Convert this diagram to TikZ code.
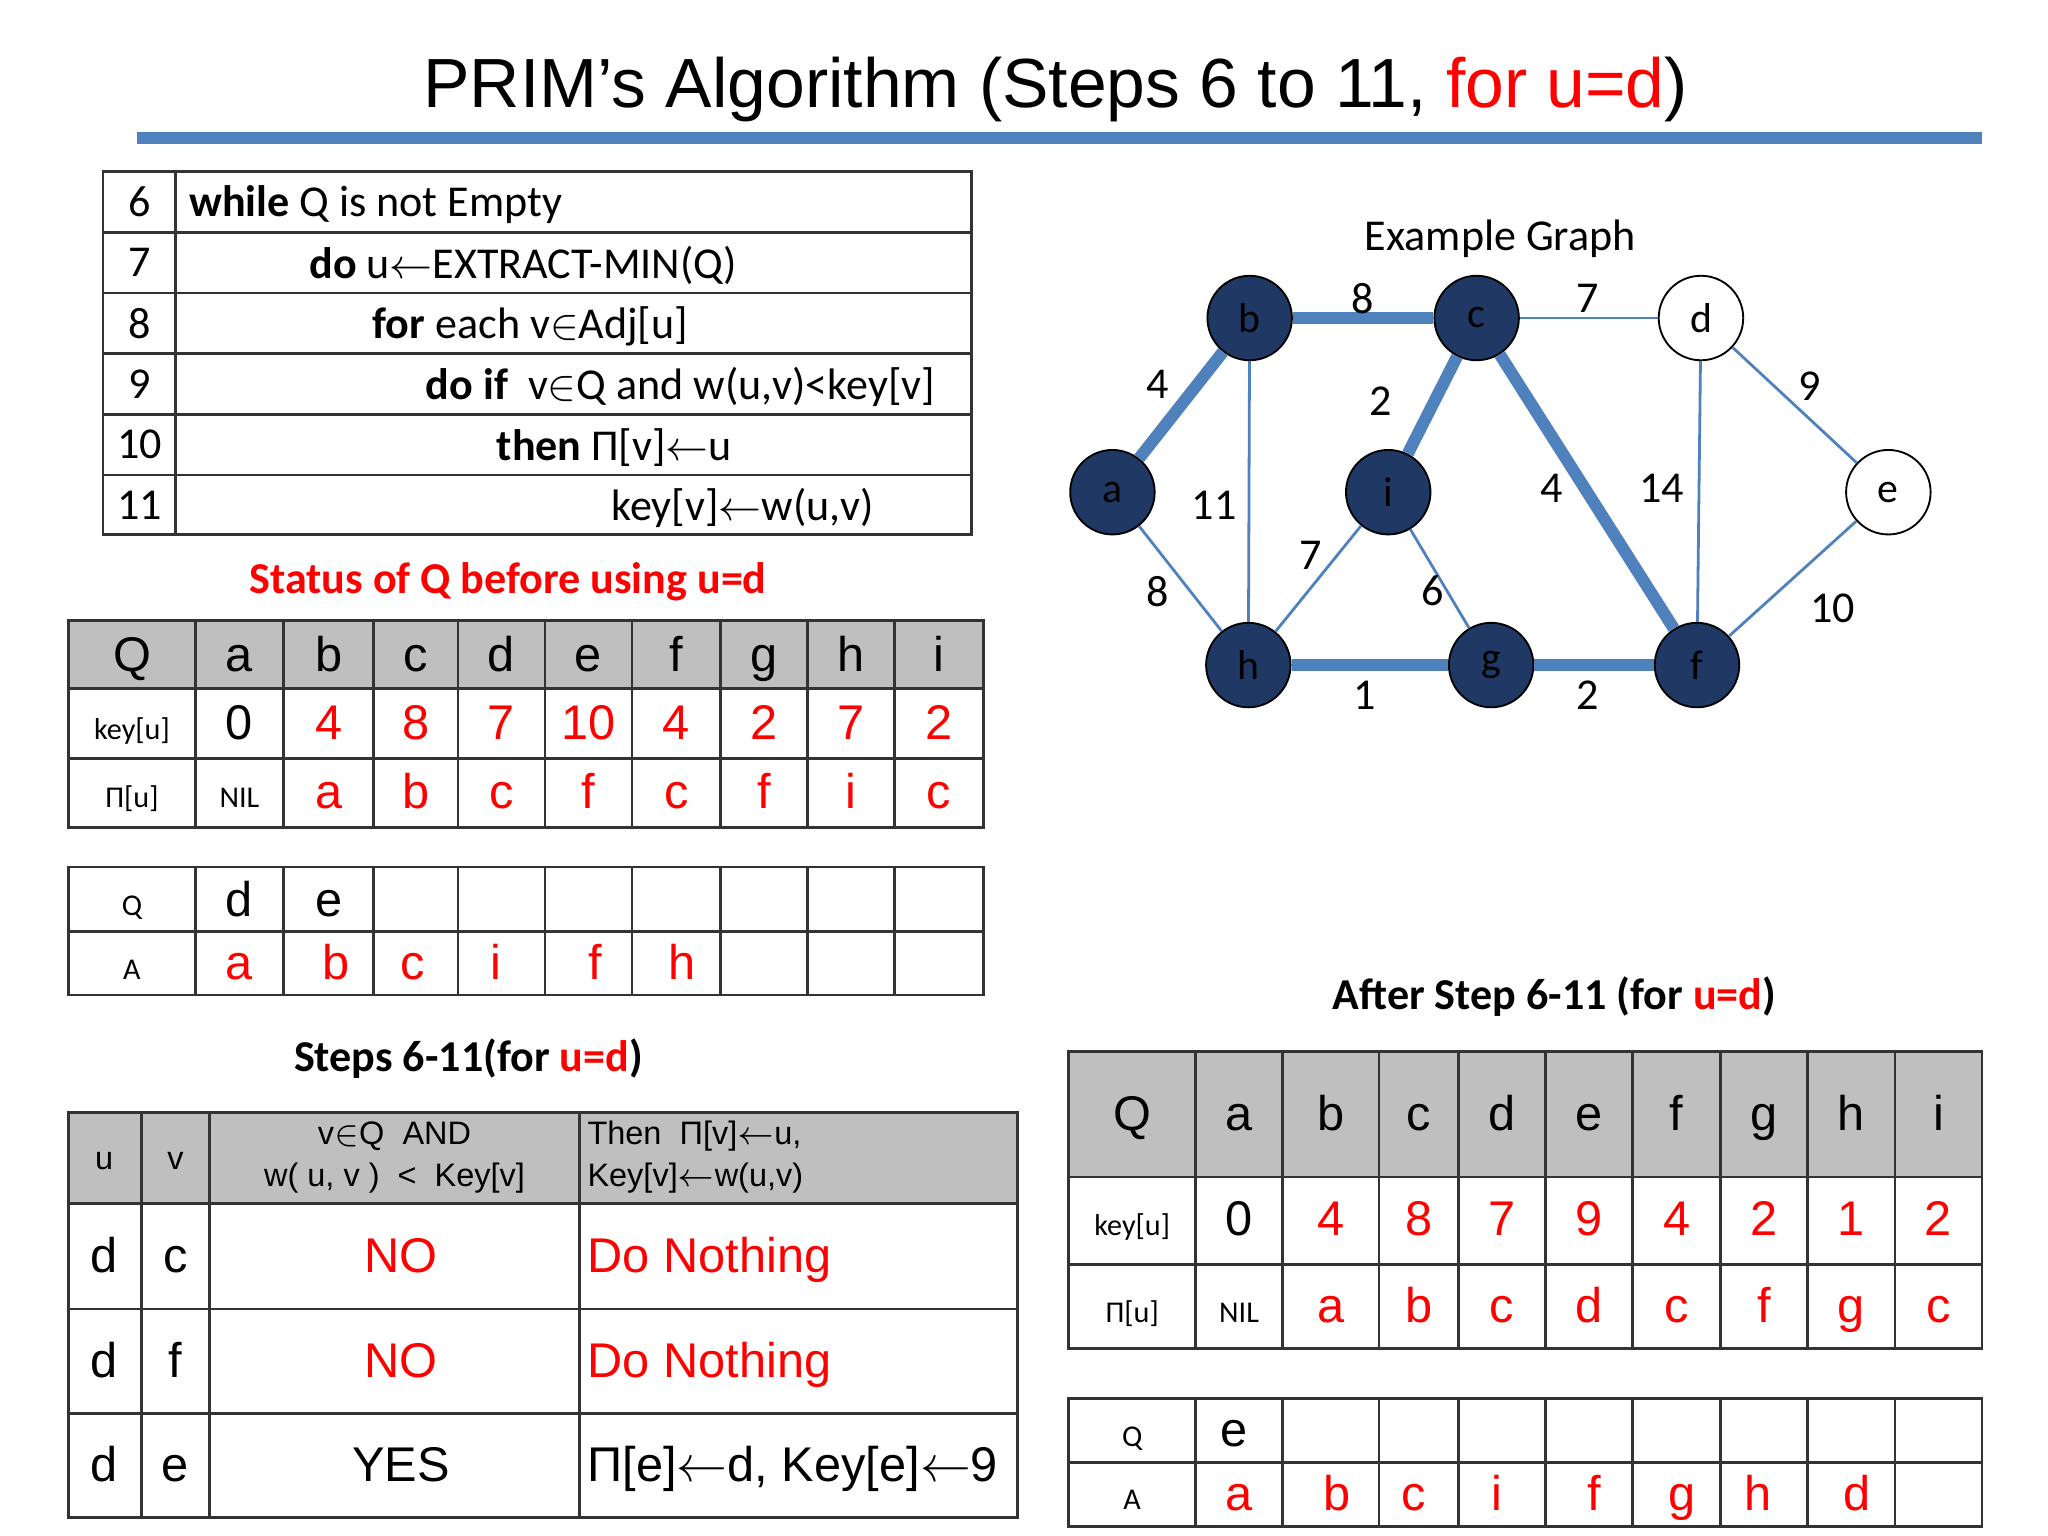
\documentclass[tikz,border=0pt]{standalone}
\usepackage{fontspec}
\setmainfont{Carlito}
\newfontfamily\arialf{Liberation Sans}
\begin{document}
\begin{tikzpicture}[x=0.01cm,y=-0.01cm]
\definecolor{rd}{RGB}{255,0,0}
\definecolor{hdr}{RGB}{191,191,191}
\definecolor{navy}{RGB}{31,56,100}
\definecolor{eb}{RGB}{79,129,189}
\tikzset{
  grid/.style={draw=black!80,line width=0.6pt},
  big/.style={font=\arialf\fontsize{10.5}{13}\selectfont,text height=1.55ex,text depth=0.3ex},
  sm/.style={font=\fontsize{6.5}{8}\selectfont,text height=1.6ex,text depth=0.4ex},
  code/.style={font=\fontsize{9.5}{11}\selectfont,anchor=west},
  vtx/.style={circle,draw=black,fill=navy,minimum size=0.64cm,inner sep=0pt,font=\fontsize{9}{10}\selectfont},
  wvtx/.style={circle,draw=black,fill=white,minimum size=0.64cm,inner sep=0pt,font=\fontsize{9}{10}\selectfont},
  thick edge/.style={draw=eb,line width=2.6pt},
  thin edge/.style={draw=eb,line width=0.6pt},
  wl/.style={font=\fontsize{9.5}{11}\selectfont},
  ttl/.style={font=\bfseries\fontsize{9.5}{11}\selectfont},
}
\useasboundingbox[fill=white] (0,0) rectangle (1552,1164);
% title
\node[font=\arialf\fontsize{15}{18}\selectfont] (title) at (800,68) {PRIM’s Algorithm (Steps 6 to 11, \textcolor{rd}{for u=d})};
\fill[eb] (104,100) rectangle (1502,109);
% code table
\draw[grid] (78,130) rectangle (736,405);
\foreach \y in {176,222,268,314,360} \draw[grid] (78,\y) -- (736,\y);
\draw[grid] (133,130) -- (133,405);
\foreach \n/\y in {6/153,7/199,8/245,9/291,10/337,11/383}
  \node[font=\fontsize{9.5}{11}\selectfont] (ln\n) at (106,\y) {\n};
\node[code] (c6) at (131,155) {\textbf{while} Q is not Empty};
\node[code] (c7) at (222,201) {\textbf{do} u$\leftarrow$EXTRACT-MIN(Q)};
\node[code] (c8) at (270,247) {\textbf{for} each v$\in$Adj[u]};
\node[code,anchor=east] (c9) at (721,293) {\textbf{do if}\ \ v$\in$Q and w(u,v)<key[v]};
\node[code] (c10) at (364,339) {\textbf{then} Π[v]$\leftarrow$u};
\node[code] (c11) at (451,385) {key[v]$\leftarrow$w(u,v)};
% status title
\node[font=\bfseries\fontsize{9.5}{11}\selectfont,text=rd] (st) at (385,441) {Status of Q before using u=d};
% table 1
\fill[hdr] (52,470) rectangle (745,522);
\draw[grid] (52,470) rectangle (745,627);
\foreach \y in {522,575} \draw[grid] (52,\y) -- (745,\y);
\foreach \x in {148,215,283,347,413,479,546,612,678} \draw[grid] (\x,470) -- (\x,627);
\foreach \t [count=\i] in {Q,a,b,c,d,e,f,g,h,i}{
  \pgfmathsetmacro\xc{{0,100,181.5,249,315,380,446,512.5,579,645,711.5}[\i]}
  \node[big] (ha\i) at (\xc,498) {\t};}
\foreach \t [count=\i] in {0,4,8,7,10,4,2,7,2}{
  \pgfmathsetmacro\xc{{0,181.5,249,315,380,446,512.5,579,645,711.5}[\i]}
  \ifnum\i=1 \node[big] (ka\i) at (\xc,550) {\t};\else \node[big,text=rd] (ka\i) at (\xc,550) {\t};\fi}
\foreach \t [count=\i] in {a,b,c,f,c,f,i,c}{
  \pgfmathsetmacro\xc{{0,249,315,380,446,512.5,579,645,711.5}[\i]}
  \node[big,text=rd] (pa\i) at (\xc,602) {\t};}
\node[sm] (kl1) at (100,550) {key[u]};
\node[sm] (pl1) at (100,602) {Π[u]};
\node[sm] (nil1) at (181.5,602) {NIL};
% table 2
\draw[grid] (52,657) rectangle (745,754);
\draw[grid] (52,706) -- (745,706);
\foreach \x in {148,215,283,347,413,479,546,612,678} \draw[grid] (\x,657) -- (\x,754);
\node[sm] (q2) at (100,684) {Q};
\node[sm] (a2) at (100,732) {A};
\node[big] (q2d) at (181.5,684) {d};
\node[big] (q2e) at (249,684) {e};
\foreach \t/\xc in {a/181.5,b/255,c/313,i/376,f/451,h/517}
  \node[big,text=rd] (A2\t) at (\xc,732) {\t};
% steps title
\node[ttl] (stt) at (355,802) {Steps 6-11(for \textcolor{rd}{u=d})};
% table 3
\fill[hdr] (52,843) rectangle (771,912);
\draw[grid] (52,843) rectangle (771,1150);
\foreach \y in {912,992,1071} \draw[grid] (52,\y) -- (771,\y);
\foreach \x in {107,159,439} \draw[grid] (\x,843) -- (\x,1150);
\node[font=\arialf\fontsize{7}{9}\selectfont] (hu) at (79,880) {u};
\node[font=\arialf\fontsize{7}{9}\selectfont] (hv) at (133,880) {v};
\node[font=\arialf\fontsize{7}{9}\selectfont,align=center] (hc) at (299,877) {v$\in$Q\ \ AND\\w( u, v )\ \ <\ \ Key[v]};
\node[font=\arialf\fontsize{7}{9}\selectfont,align=left,anchor=west,inner sep=1pt] (ht) at (441,877) {Then\ \ Π[v]$\leftarrow$u,\\Key[v]$\leftarrow$w(u,v)};
\foreach \u/\v/\c/\y [count=\r] in {d/c/NO/954,d/f/NO/1033,d/e/YES/1112}{
  \node[big] (ru\r) at (79,\y) {\u};
  \node[big] (rv\r) at (133,\y) {\v};
  \ifnum\r<3 \node[big,text=rd] (rc\r) at (304,\y) {\c};
  \node[big,text=rd,anchor=west,inner sep=1pt] (rt\r) at (441,\y) {Do Nothing};
  \else \node[big] (rc\r) at (304,\y) {\c};
  \node[big,anchor=west,inner sep=1pt] (rt\r) at (441,\y) {Π[e]$\leftarrow$d, Key[e]$\leftarrow$9};\fi}
% graph
\node[wl] (eg) at (1137,181) {Example Graph};
\node[vtx] (a) at (843,373) {a};
\node[vtx] (b) at (947,241) {b};
\node[vtx] (c) at (1119,241) {c};
\node[wvtx] (d) at (1289,241) {d};
\node[wvtx] (e) at (1431,373) {e};
\node[vtx] (i) at (1052,373) {i};
\node[vtx] (h) at (946,504) {h};
\node[vtx] (g) at (1130,504) {g};
\node[vtx] (f) at (1286,504) {f};
\draw[thick edge] (a) -- (b);
\draw[thick edge] (b) -- (c);
\draw[thick edge] (c) -- (i);
\draw[thick edge] (c) -- (f);
\draw[thick edge] (h) -- (g);
\draw[thick edge] (g) -- (f);
\draw[thin edge] (a) -- (h);
\draw[thin edge] (b) -- (h);
\draw[thin edge] (i) -- (h);
\draw[thin edge] (i) -- (g);
\draw[thin edge] (c) -- (d);
\draw[thin edge] (d) -- (f);
\draw[thin edge] (d) -- (e);
\draw[thin edge] (e) -- (f);
\foreach \t/\x/\y [count=\k] in {4/877/291,8/1033/226,7/1203/226,2/1046/304,9/1371/293,11/920/383,7/993/421,4/1176/370,14/1259/370,8/877/448,6/1086/448,10/1389/461,1/1034/527,2/1203/527}
  \node[wl] (w\k) at (\x,\y) {\t};
% after title
\node[ttl] (aft) at (1178,755) {After Step 6-11 (for \textcolor{rd}{u=d})};
% table 4
\fill[hdr] (810,797) rectangle (1502,892);
\draw[grid] (810,797) rectangle (1502,1022);
\foreach \y in {892,958} \draw[grid] (810,\y) -- (1502,\y);
\foreach \x in {906,972,1045,1105,1171,1237,1304,1370,1436} \draw[grid] (\x,797) -- (\x,1022);
\foreach \t [count=\i] in {Q,a,b,c,d,e,f,g,h,i}{
  \pgfmathsetmacro\xc{{0,858,939,1008.5,1075,1138,1204,1270.5,1337,1403,1469}[\i]}
  \node[big] (hb\i) at (\xc,846) {\t};}
\foreach \t [count=\i] in {0,4,8,7,9,4,2,1,2}{
  \pgfmathsetmacro\xc{{0,939,1008.5,1075,1138,1204,1270.5,1337,1403,1469}[\i]}
  \ifnum\i=1 \node[big] (kb\i) at (\xc,926) {\t};\else \node[big,text=rd] (kb\i) at (\xc,926) {\t};\fi}
\foreach \t [count=\i] in {a,b,c,d,c,f,g,c}{
  \pgfmathsetmacro\xc{{0,1008.5,1075,1138,1204,1270.5,1337,1403,1469}[\i]}
  \node[big,text=rd] (pb\i) at (\xc,992) {\t};}
\node[sm] (kl4) at (858,926) {key[u]};
\node[sm] (pl4) at (858,992) {Π[u]};
\node[sm] (nil4) at (939,992) {NIL};
% table 5
\draw[grid] (810,1060) rectangle (1502,1157);
\draw[grid] (810,1108) -- (1502,1108);
\foreach \x in {906,972,1045,1105,1171,1237,1304,1370,1436} \draw[grid] (\x,1060) -- (\x,1157);
\node[sm] (q5) at (858,1086) {Q};
\node[sm] (a5) at (858,1134) {A};
\node[big] (q5e) at (935,1086) {e};
\foreach \t/\xc [count=\k] in {a/939,b/1013,c/1071,i/1134,f/1208,g/1275,h/1332,d/1407}
  \node[big,text=rd] (A5\k) at (\xc,1134) {\t};
\end{tikzpicture}
\end{document}
